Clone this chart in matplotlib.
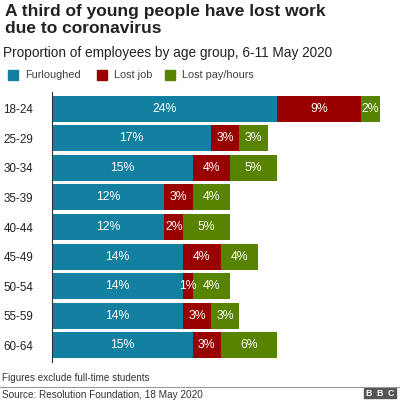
import matplotlib.pyplot as plt
from matplotlib.patches import Rectangle

plt.rcParams['font.family'] = ['Liberation Sans', 'DejaVu Sans']

# data
age_groups = ["18-24", "25-29", "30-34", "35-39", "40-44", "45-49", "50-54", "55-59", "60-64"]
furloughed = [24, 17, 15, 12, 12, 14, 14, 14, 15]
lost_job = [9, 3, 4, 3, 2, 4, 1, 3, 3]
lost_pay = [2, 3, 5, 4, 5, 4, 4, 3, 6]

series = [
    ("Furloughed", furloughed, "#1380A1"),
    ("Lost job", lost_job, "#990000"),
    ("Lost pay/hours", lost_pay, "#588300"),
]

fig = plt.figure(figsize=(4, 4), dpi=100)
fig.patch.set_facecolor("white")

# titles
fig.text(0.012, 0.99, "A third of young people have lost work\ndue to coronavirus",
         fontsize=12.5, fontweight="bold", color="#222222", va="top", linespacing=1.2)
fig.text(0.008, 0.868, "Proportion of employees by age group, 6-11 May 2020",
         fontsize=9.8, color="#222222", va="center")

# legend
lx = [0.02, 0.243, 0.413]
for (name, _, col), x in zip(series, lx):
    fig.patches.append(Rectangle((x, 0.8), 0.025, 0.025, color=col, transform=fig.transFigure))
    fig.text(x + 0.042, 0.813, name, fontsize=7.8, color="#404040", va="center")

ax = fig.add_axes([0.13, 0.095, 0.82, 0.675])
ypos = list(range(len(age_groups)))
left = [0] * len(age_groups)
for name, vals, col in series:
    ax.barh(ypos, vals, left=left, height=0.88, color=col, edgecolor="none")
    for y, v, l in zip(ypos, vals, left):
        ax.text(l + v / 2, y, f"{v}%", color="white", fontsize=8.8, ha="center", va="center")
    left = [a + b for a, b in zip(left, vals)]

ax.set_xlim(0, 35)
ax.set_ylim(8.56, -0.56)
ax.set_yticks(ypos)
ax.set_yticklabels(age_groups, fontsize=8.4, color="#222222")
ax.set_xticks([])
ax.tick_params(axis="y", length=0, pad=35)
for lbl in ax.get_yticklabels():
    lbl.set_ha("left")
for s in ["top", "right", "bottom"]:
    ax.spines[s].set_visible(False)
ax.spines["left"].set_color("#333333")
ax.spines["left"].set_linewidth(0.8)

# footer
fig.text(0.006, 0.055, "Figures exclude full-time students", fontsize=7.1, color="#333333", va="center")
fig.add_artist(plt.Line2D([0, 1], [0.033, 0.033], color="#999999", lw=0.8, transform=fig.transFigure))
fig.text(0.006, 0.012, "Source: Resolution Foundation, 18 May 2020", fontsize=7.2, color="#333333", va="center")
for i, ch in enumerate("BBC"):
    x0 = 0.91 + i * 0.0275
    fig.patches.append(Rectangle((x0, 0.005), 0.025, 0.024, color="#555555", transform=fig.transFigure))
    fig.text(x0 + 0.0125, 0.0165, ch, fontsize=6.3, fontweight="bold", color="white",
             ha="center", va="center")

fig.savefig("out.png", dpi=100)
